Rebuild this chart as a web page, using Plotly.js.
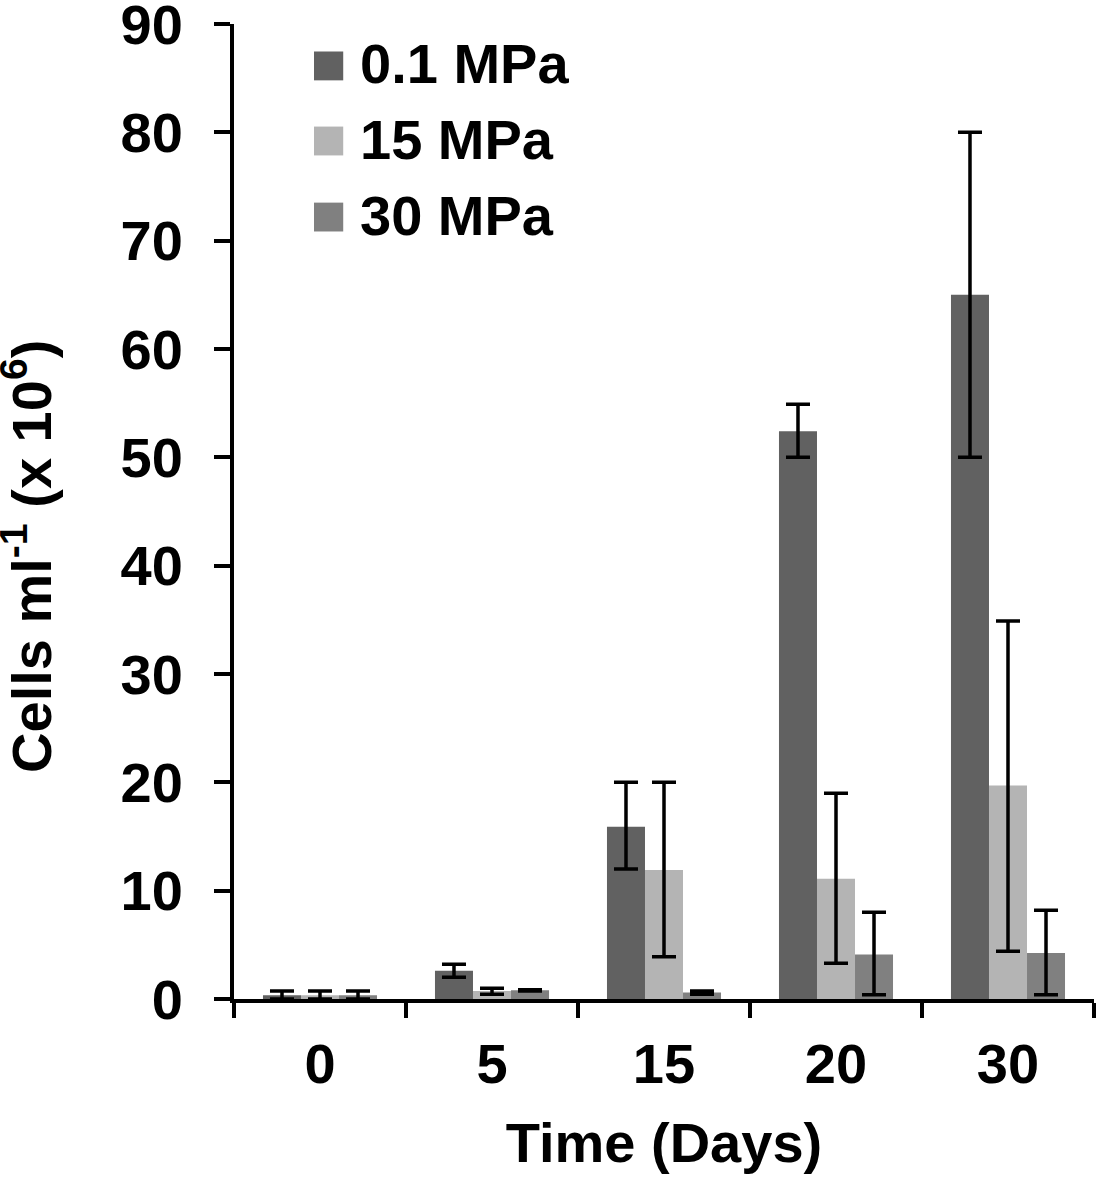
<!DOCTYPE html>
<html>
<head>
<meta charset="utf-8">
<script src="https://cdn.plot.ly/plotly-3.0.1.min.js"></script>
<style>html,body{margin:0;padding:0;background:#fff;}#chart{width:1102px;height:1181px;}</style>
</head>
<body>
<div id="chart"></div>
<script>
const categories = ["0", "5", "15", "20", "30"];
const seriesNames = ["0.1 MPa", "15 MPa", "30 MPa"];
const seriesColors = ["#616161", "#b4b4b4", "#808080"];

const values01 = [0.35, 2.6, 15.9, 52.4, 65.0];
const errPlus01 = [0.4, 0.6, 4.1, 2.5, 15.0];
const errMinus01 = [0.35, 0.6, 3.9, 2.4, 15.0];

const values15 = [0.35, 0.75, 11.9, 11.1, 19.7];
const errPlus15 = [0.4, 0.25, 8.1, 7.9, 15.2];
const errMinus15 = [0.35, 0.3, 8.0, 7.8, 15.3];

const values30 = [0.35, 0.8, 0.6, 4.1, 4.25];
const errPlus30 = [0.4, 0.05, 0.15, 3.9, 3.95];
const errMinus30 = [0.35, 0.05, 0.15, 3.7, 3.85];

const yTickVals = [0, 10, 20, 30, 40, 50, 60, 70, 80, 90];
const xTitle = "Time (Days)";
const yTitle = "Cells ml<sup>-1</sup> (x 10<sup>6</sup>)";

const FONT = "Liberation Sans, Arial, sans-serif";
const FS = 56;

function mk(i, vals, ep, em) {
  return {
    type: "bar",
    name: seriesNames[i],
    x: categories,
    y: vals,
    marker: {color: seriesColors[i], line: {width: 0}},
    error_y: {type: "data", array: ep, arrayminus: em, visible: true,
              color: "#000", thickness: 3.5, width: 12},
    showlegend: false
  };
}

const data = [
  mk(0, values01, errPlus01, errMinus01),
  mk(1, values15, errPlus15, errMinus15),
  mk(2, values30, errPlus30, errMinus30)
];

const legendY = [0.957, 0.880, 0.802];
const shapes = [];
const annotations = [];
seriesNames.forEach((n, i) => {
  shapes.push({type: "rect", xref: "paper", yref: "paper",
    x0: 0.093, x1: 0.127, y0: legendY[i] - 0.0148, y1: legendY[i] + 0.0148,
    fillcolor: seriesColors[i], line: {width: 0}});
  annotations.push({xref: "paper", yref: "paper", x: 0.144, y: legendY[i] + 0.002,
    xanchor: "left", yanchor: "middle", showarrow: false, text: "<b>" + n + "</b>",
    font: {family: FONT, size: FS, color: "#000"}});
});
annotations.push({xref: "paper", yref: "paper", x: -0.240, y: 0.454,
  xanchor: "center", yanchor: "middle", textangle: -90, showarrow: false,
  text: "<b>" + yTitle + "</b>", font: {family: FONT, size: FS, color: "#000"}});

const layout = {
  width: 1102, height: 1181,
  margin: {l: 234, r: 8, t: 24, b: 182},
  paper_bgcolor: "#fff", plot_bgcolor: "#fff",
  font: {family: FONT, size: FS, color: "#000", weight: "bold"},
  barmode: "group", bargap: 0.337, bargroupgap: 0,
  showlegend: false,
  xaxis: {
    type: "category", range: [-0.5, 4.5],
    showline: true, linecolor: "#000", linewidth: 4,
    ticks: "outside", tickson: "boundaries", ticklen: 15, tickwidth: 4, tickcolor: "#000",
    ticklabelstandoff: 13,
    tickfont: {family: FONT, size: FS, color: "#000", weight: "bold"},
    showgrid: false, zeroline: false, automargin: false,
    title: {text: "<b>" + xTitle + "</b>", font: {family: FONT, size: FS, color: "#000"}, standoff: 30}
  },
  yaxis: {
    range: [0, 90], tickvals: yTickVals, ticktext: yTickVals.map(String),
    showline: true, linecolor: "#000", linewidth: 4,
    ticks: "outside", ticklen: 16, tickwidth: 4, tickcolor: "#000",
    ticklabelstandoff: 20, ticklabeloverflow: "allow",
    tickfont: {family: FONT, size: FS, color: "#000", weight: "bold"},
    showgrid: false, zeroline: false, automargin: false
  },
  shapes: shapes,
  annotations: annotations
};

Plotly.newPlot("chart", data, layout, {displayModeBar: false, staticPlot: true});
</script>
</body>
</html>
